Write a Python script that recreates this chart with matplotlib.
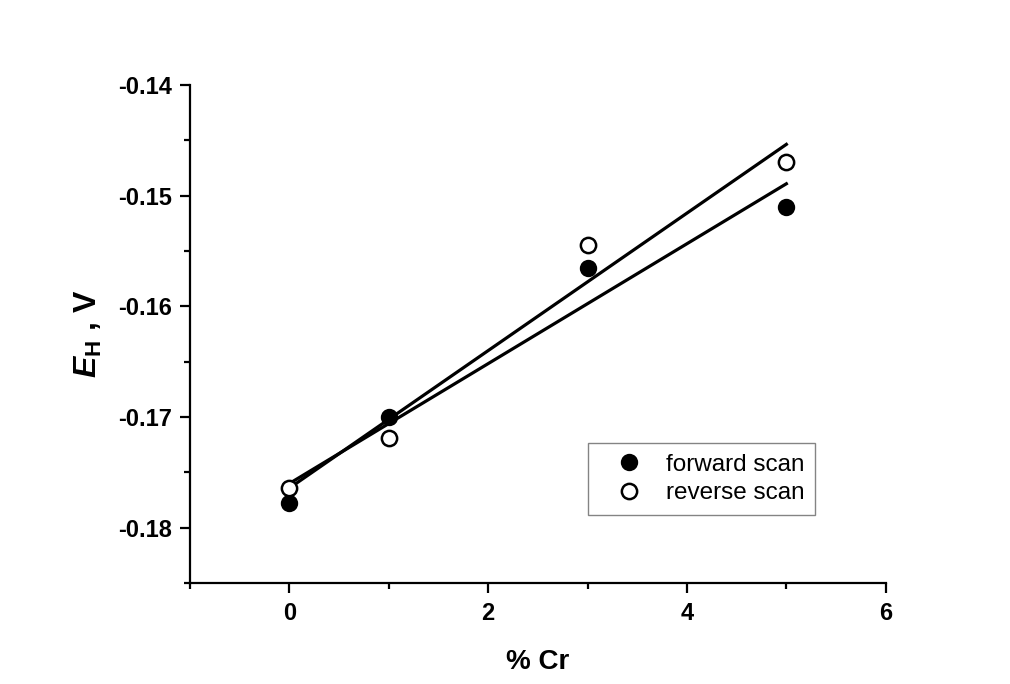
import numpy as np
import matplotlib
matplotlib.use("Agg")
import matplotlib.pyplot as plt
from matplotlib.ticker import MultipleLocator

plt.rcParams['font.family'] = ['Liberation Sans', 'DejaVu Sans']
plt.rcParams['mathtext.fontset'] = 'custom'
plt.rcParams['mathtext.rm'] = 'Liberation Sans:bold'
plt.rcParams['mathtext.bf'] = 'Liberation Sans:bold'
plt.rcParams['mathtext.bfit'] = 'Liberation Sans:italic:bold'
plt.rcParams['mathtext.it'] = 'Liberation Sans:italic:bold'

# Chromium content (%) and hydrogen potential (V)
cr_pct = [0, 1, 3, 5]
forward_scan = [-0.1778, -0.1700, -0.1565, -0.1510]
reverse_scan = [-0.1764, -0.1719, -0.1545, -0.1470]

fig = plt.figure(figsize=(10.10, 6.84), dpi=100)
ax = fig.add_axes([0.188, 0.1477, 0.689, 0.728])

x = np.array(cr_pct, dtype=float)
xfit = np.array([x.min(), x.max()])
for ys in (forward_scan, reverse_scan):
    k, b = np.polyfit(x, np.array(ys), 1)
    ax.plot(xfit, k * xfit + b, color='black', lw=2.3, zorder=2)

ax.plot(cr_pct, forward_scan, 'o', ms=11, mfc='black', mec='black', mew=1.5,
        ls='none', label='forward scan', zorder=3)
ax.plot(cr_pct, reverse_scan, 'o', ms=11, mfc='white', mec='black', mew=1.8,
        ls='none', label='reverse scan', zorder=3)

ax.set_xlim(-1, 6)
ax.set_ylim(-0.185, -0.14)
ax.xaxis.set_major_locator(MultipleLocator(2))
ax.xaxis.set_minor_locator(MultipleLocator(1))
ax.yaxis.set_minor_locator(MultipleLocator(0.005))
ax.set_yticks([-0.18, -0.17, -0.16, -0.15, -0.14])
ax.set_yticklabels(['-0.18', '-0.17', '-0.16', '-0.15', '-0.14'])

for s in ('top', 'right'):
    ax.spines[s].set_visible(False)
for s in ('left', 'bottom'):
    ax.spines[s].set_linewidth(1.6)

ax.tick_params(which='major', direction='out', length=7, width=1.6,
               labelsize=17, pad=7)
ax.tick_params(axis='y', which='major', pad=6)
ax.tick_params(which='minor', direction='out', length=4, width=1.6)
for lbl in ax.get_xticklabels() + ax.get_yticklabels():
    lbl.set_fontweight('bold')

ax.set_xlabel('% Cr', fontsize=20, fontweight='bold', labelpad=17)
ax.set_ylabel(r'$\mathbfit{E}_{\mathrm{H}}$ , V', fontsize=23,
              fontweight='bold', labelpad=10)

leg = ax.legend(loc='upper left', bbox_to_anchor=(0.572, 0.281),
                borderaxespad=0, fancybox=False, fontsize=17.5,
                handletextpad=0.25, borderpad=0.45, labelspacing=0.25,
                handlelength=2.5)
leg.get_frame().set_edgecolor('#666666')
leg.get_frame().set_linewidth(1.0)

fig.savefig('out.png', dpi=100, facecolor='white')
